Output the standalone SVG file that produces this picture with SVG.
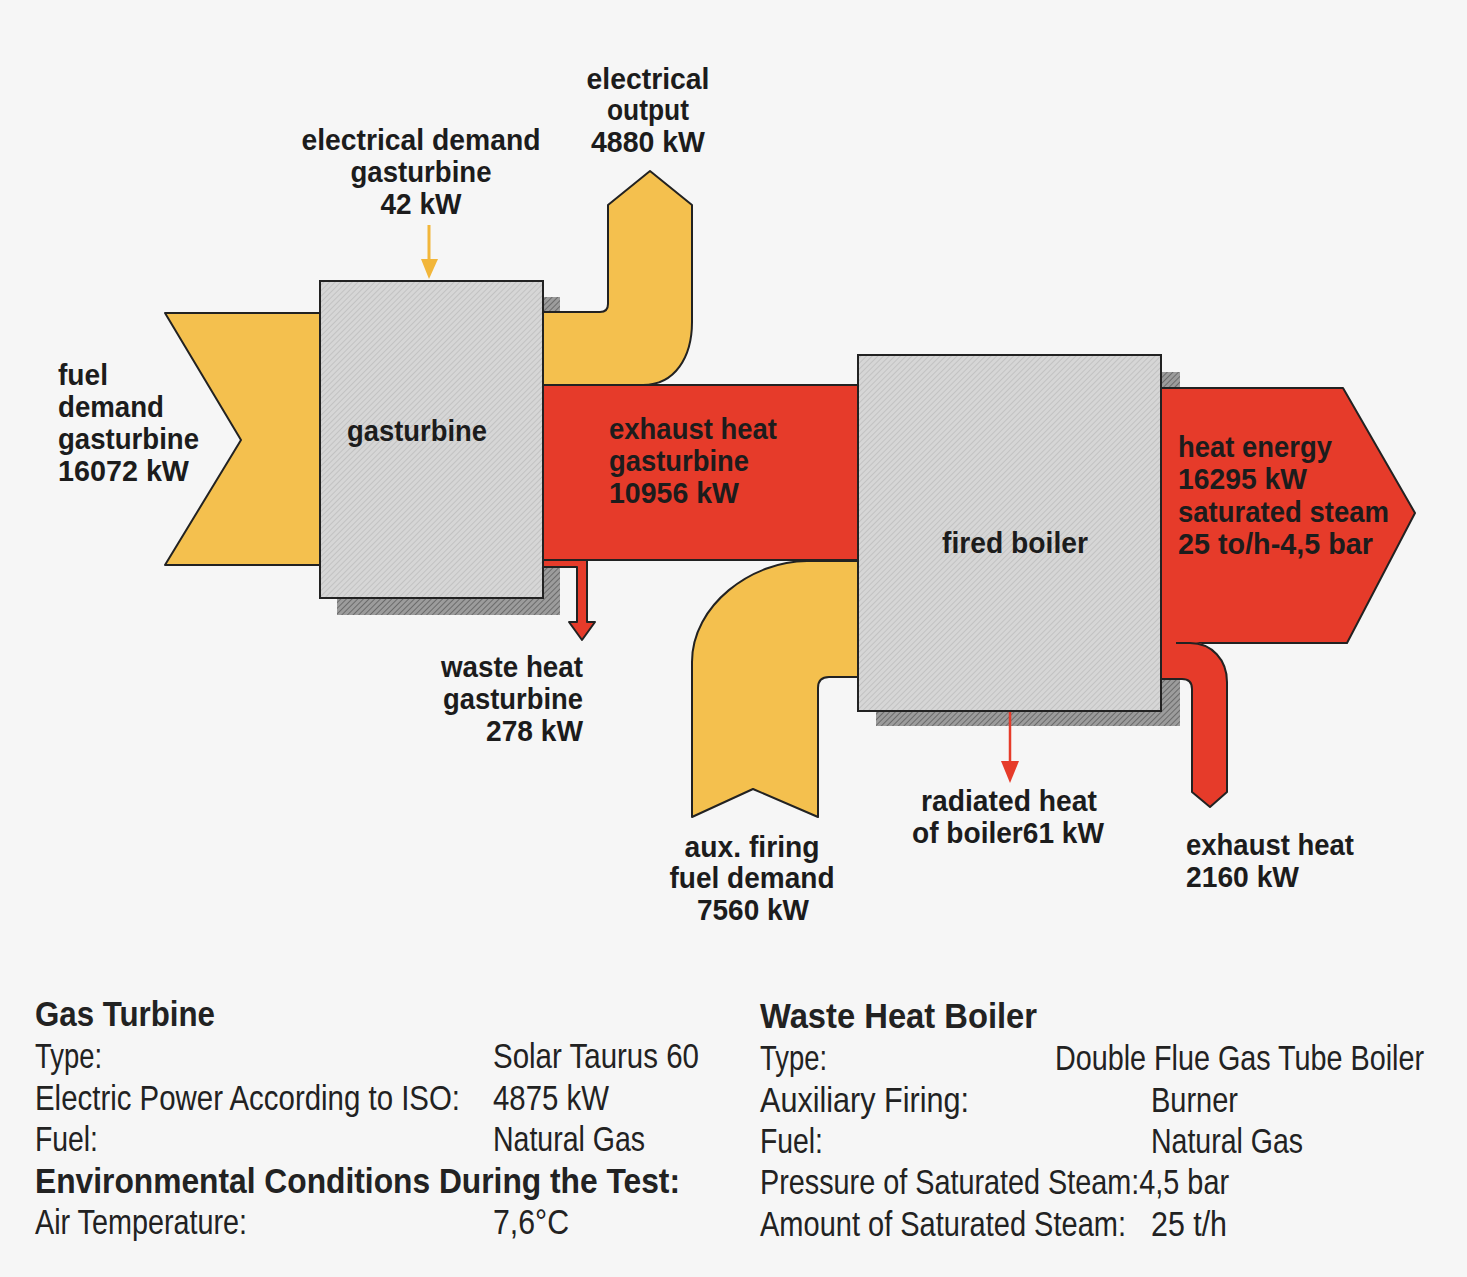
<svg xmlns="http://www.w3.org/2000/svg" width="1467" height="1277" viewBox="0 0 1467 1277">
<defs>
<pattern id="boxPat" width="4" height="4" patternUnits="userSpaceOnUse" patternTransform="rotate(45)">
<rect width="4" height="4" fill="#d6d6d6"/>
<line x1="0" y1="0" x2="0" y2="4" stroke="#bcbcbc" stroke-width="1.5"/>
</pattern>
<pattern id="shadowPat" width="4" height="4" patternUnits="userSpaceOnUse" patternTransform="rotate(45)">
<rect width="4" height="4" fill="#9c9c9c"/>
<line x1="0" y1="0" x2="0" y2="4" stroke="#5e5e5e" stroke-width="1.6"/>
</pattern>
<style>
.lbl{font-family:"Liberation Sans Narrow","Liberation Sans",Arial,sans-serif;font-weight:bold;font-size:30px;fill:#1c1c1c}
.tb{font-family:"Liberation Sans Narrow","Liberation Sans",Arial,sans-serif;font-size:35px;fill:#222}
.tbh{font-family:"Liberation Sans Narrow","Liberation Sans",Arial,sans-serif;font-weight:bold;font-size:35px;fill:#222}
.box{fill:url(#boxPat);stroke:#222;stroke-width:2}
.shadow{fill:url(#shadowPat)}
.yel{fill:#F4C04E;stroke:#222;stroke-width:2;stroke-linejoin:round}
.red{fill:#E63B2A;stroke:#222;stroke-width:2;stroke-linejoin:round}
.redf{fill:#E63B2A}
.outl{fill:none;stroke:#222;stroke-width:2;stroke-linejoin:round}
</style>
</defs>
<rect width="1467" height="1277" fill="#f6f6f6"/>

<!-- shadows -->
<rect class="shadow" x="337" y="297" width="223" height="318"/>
<rect class="shadow" x="876" y="372" width="304" height="354"/>

<g id="connectors">
<path id="fuel-arrow" class="yel" d="M330,313 L165,313 L241,440 L165,565 L330,565 Z"/>
<path id="elec-output" class="yel" d="M535,312 L600,312 Q608,312 608,304 L608,205 L650,171 L692,205 L692,322 C692,357 675,385 643,385 L535,385 Z"/>
<path id="waste-heat" class="red" d="M535,560 L587,560 L587,622 L595,622 L582,640 L569,622 L577,622 L577,567 L535,567 Z"/>
<rect id="exhaust-band" class="red" x="535" y="385" width="333" height="175"/>
<path id="aux-firing" class="yel" d="M868,561 L807,561 C752,561 692,605 692,662 L692,817 L753,789 L818,817 L818,688 Q818,677 829,677 L868,677 Z"/>
<path id="heat-energy" class="red" d="M1150,388 L1343,388 L1415,513 L1347,643 L1150,643 Z"/>
<path class="redf" d="M1150,641 L1190,641 C1212,643 1227,660 1227,682 L1227,792 L1210,807 L1192,792 L1192,689 Q1192,679 1182,679 L1150,679 Z"/>
<path class="outl" d="M1176,643 L1190,643 C1212,643 1227,660 1227,682 L1227,792 L1210,807 L1192,792 L1192,689 Q1192,679 1182,679 L1161,679"/>
<line x1="429" y1="225" x2="429" y2="262" stroke="#F2B63A" stroke-width="3"/>
<polygon points="421,259 438,259 429,279" fill="#F2B63A"/>
<line x1="1010" y1="711" x2="1010" y2="765" stroke="#E63B2A" stroke-width="2.5"/>
<polygon points="1001,761 1019,761 1010,783" fill="#E63B2A"/>
</g>

<g id="gasturbine">
<rect class="box" x="320" y="281" width="223" height="317"/>
<text class="lbl" x="417" y="441" text-anchor="middle" textLength="140" lengthAdjust="spacingAndGlyphs">gasturbine</text>
</g>

<g id="fired-boiler">
<rect class="box" x="858" y="355" width="303" height="356"/>
<text class="lbl" x="1015" y="553" text-anchor="middle" textLength="146" lengthAdjust="spacingAndGlyphs">fired boiler</text>
</g>

<g id="labels">
<text class="lbl" x="421" y="150" text-anchor="middle" textLength="239" lengthAdjust="spacingAndGlyphs">electrical demand</text>
<text class="lbl" x="421" y="182" text-anchor="middle" textLength="141" lengthAdjust="spacingAndGlyphs">gasturbine</text>
<text class="lbl" x="421" y="214" text-anchor="middle" textLength="81" lengthAdjust="spacingAndGlyphs">42 kW</text>

<text class="lbl" x="648" y="89" text-anchor="middle" textLength="123" lengthAdjust="spacingAndGlyphs">electrical</text>
<text class="lbl" x="648" y="120" text-anchor="middle" textLength="82" lengthAdjust="spacingAndGlyphs">output</text>
<text class="lbl" x="648" y="152" text-anchor="middle" textLength="114" lengthAdjust="spacingAndGlyphs">4880 kW</text>

<text class="lbl" x="58" y="385" textLength="50" lengthAdjust="spacingAndGlyphs">fuel</text>
<text class="lbl" x="58" y="417" textLength="106" lengthAdjust="spacingAndGlyphs">demand</text>
<text class="lbl" x="58" y="449" textLength="141" lengthAdjust="spacingAndGlyphs">gasturbine</text>
<text class="lbl" x="58" y="481" textLength="131" lengthAdjust="spacingAndGlyphs">16072 kW</text>

<text class="lbl" x="609" y="439" textLength="168" lengthAdjust="spacingAndGlyphs">exhaust heat</text>
<text class="lbl" x="609" y="471" textLength="140" lengthAdjust="spacingAndGlyphs">gasturbine</text>
<text class="lbl" x="609" y="503" textLength="130" lengthAdjust="spacingAndGlyphs">10956 kW</text>

<text class="lbl" x="1178" y="457" textLength="154" lengthAdjust="spacingAndGlyphs">heat energy</text>
<text class="lbl" x="1178" y="489" textLength="129" lengthAdjust="spacingAndGlyphs">16295 kW</text>
<text class="lbl" x="1178" y="522" textLength="211" lengthAdjust="spacingAndGlyphs">saturated steam</text>
<text class="lbl" x="1178" y="554" textLength="195" lengthAdjust="spacingAndGlyphs">25 to/h-4,5 bar</text>

<text class="lbl" x="583" y="677" text-anchor="end" textLength="142" lengthAdjust="spacingAndGlyphs">waste heat</text>
<text class="lbl" x="583" y="709" text-anchor="end" textLength="140" lengthAdjust="spacingAndGlyphs">gasturbine</text>
<text class="lbl" x="583" y="741" text-anchor="end" textLength="97" lengthAdjust="spacingAndGlyphs">278 kW</text>

<text class="lbl" x="752" y="857" text-anchor="middle" textLength="135" lengthAdjust="spacingAndGlyphs">aux. firing</text>
<text class="lbl" x="752" y="888" text-anchor="middle" textLength="165" lengthAdjust="spacingAndGlyphs">fuel demand</text>
<text class="lbl" x="753" y="920" text-anchor="middle" textLength="112" lengthAdjust="spacingAndGlyphs">7560 kW</text>

<text class="lbl" x="1009" y="811" text-anchor="middle" textLength="176" lengthAdjust="spacingAndGlyphs">radiated heat</text>
<text class="lbl" x="1008" y="843" text-anchor="middle" textLength="192" lengthAdjust="spacingAndGlyphs">of boiler61 kW</text>

<text class="lbl" x="1186" y="855" textLength="168" lengthAdjust="spacingAndGlyphs">exhaust heat</text>
<text class="lbl" x="1186" y="887" textLength="113" lengthAdjust="spacingAndGlyphs">2160 kW</text>
</g>

<g id="table-gas-turbine">
<text class="tbh" transform="translate(35,1026) scale(0.8,1)" textLength="225" lengthAdjust="spacingAndGlyphs">Gas Turbine</text>
<text class="tb" transform="translate(35,1068) scale(0.8,1)" textLength="83.75" lengthAdjust="spacingAndGlyphs">Type:</text>
<text class="tb" transform="translate(493,1068) scale(0.8,1)" textLength="257.5" lengthAdjust="spacingAndGlyphs">Solar Taurus 60</text>
<text class="tb" transform="translate(35,1110) scale(0.8,1)" textLength="531.25" lengthAdjust="spacingAndGlyphs">Electric Power According to ISO:</text>
<text class="tb" transform="translate(493,1110) scale(0.8,1)" textLength="145" lengthAdjust="spacingAndGlyphs">4875 kW</text>
<text class="tb" transform="translate(35,1151) scale(0.8,1)" textLength="78.75" lengthAdjust="spacingAndGlyphs">Fuel:</text>
<text class="tb" transform="translate(493,1151) scale(0.8,1)" textLength="190" lengthAdjust="spacingAndGlyphs">Natural Gas</text>
<text class="tbh" transform="translate(35,1193) scale(0.8,1)" textLength="806.25" lengthAdjust="spacingAndGlyphs">Environmental Conditions During the Test:</text>
<text class="tb" transform="translate(35,1234) scale(0.8,1)" textLength="265" lengthAdjust="spacingAndGlyphs">Air Temperature:</text>
<text class="tb" transform="translate(493,1234) scale(0.8,1)" textLength="95" lengthAdjust="spacingAndGlyphs">7,6°C</text>
</g>

<g id="table-boiler">
<text class="tbh" transform="translate(760,1028) scale(0.8,1)" textLength="346.25" lengthAdjust="spacingAndGlyphs">Waste Heat Boiler</text>
<text class="tb" transform="translate(760,1070) scale(0.8,1)" textLength="83.75" lengthAdjust="spacingAndGlyphs">Type:</text>
<text class="tb" transform="translate(1055,1070) scale(0.8,1)" textLength="461.25" lengthAdjust="spacingAndGlyphs">Double Flue Gas Tube Boiler</text>
<text class="tb" transform="translate(760,1112) scale(0.8,1)" textLength="261.25" lengthAdjust="spacingAndGlyphs">Auxiliary Firing:</text>
<text class="tb" transform="translate(1151,1112) scale(0.8,1)" textLength="108.75" lengthAdjust="spacingAndGlyphs">Burner</text>
<text class="tb" transform="translate(760,1153) scale(0.8,1)" textLength="78.75" lengthAdjust="spacingAndGlyphs">Fuel:</text>
<text class="tb" transform="translate(1151,1153) scale(0.8,1)" textLength="190" lengthAdjust="spacingAndGlyphs">Natural Gas</text>
<text class="tb" transform="translate(760,1194) scale(0.8,1)" textLength="586.25" lengthAdjust="spacingAndGlyphs">Pressure of Saturated Steam:4,5 bar</text>
<text class="tb" transform="translate(760,1236) scale(0.8,1)" textLength="457.5" lengthAdjust="spacingAndGlyphs">Amount of Saturated Steam:</text>
<text class="tb" transform="translate(1151,1236) scale(0.8,1)" textLength="95" lengthAdjust="spacingAndGlyphs">25 t/h</text>
</g>
</svg>
